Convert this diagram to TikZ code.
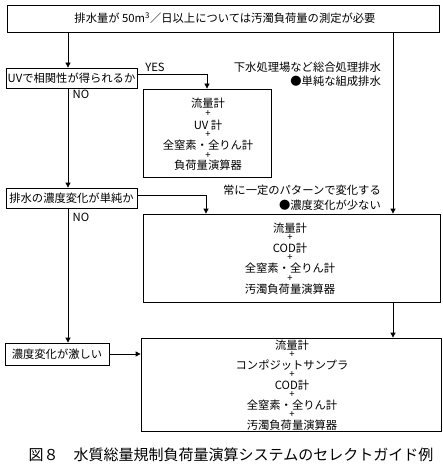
\documentclass[tikz,border=0pt]{standalone}
\usepackage{fontspec}
\setmainfont{Noto Sans CJK JP}
\usetikzlibrary{arrows.meta}
\tikzset{
  boxframe/.style={draw, line width=0.8pt, inner sep=0pt},
  lbl/.style={inner sep=0pt, font=\fontsize{11.3}{13}\selectfont},
  plus/.style={inner sep=0pt, font=\fontsize{9.5}{10}\selectfont},
  arr/.style={line width=0.8pt, -{Triangle[width=5pt,length=5pt]}},
  ln/.style={line width=0.8pt}
}
\begin{document}
\begin{tikzpicture}[x=1pt,y=-1pt]
\useasboundingbox (0,0) rectangle (443,468);
% boxes
\node[boxframe, minimum width=432pt, minimum height=27pt] (top) at (223,18.5) {};
\node[boxframe, minimum width=131pt, minimum height=20pt] (uv) at (71.5,78) {};
\node[boxframe, minimum width=131pt, minimum height=20pt] (simple) at (71.5,198) {};
\node[boxframe, minimum width=104pt, minimum height=22pt] (hard) at (57,354) {};
\node[boxframe, minimum width=128pt, minimum height=88pt] (b1) at (207,133) {};
\node[boxframe, minimum width=297pt, minimum height=88pt] (b2) at (291.5,258) {};
\node[boxframe, minimum width=300pt, minimum height=93pt] (b3) at (291,384.5) {};
% box texts
\node[lbl] (ttop) at (225,18) {排水量が 50m\textsuperscript{3}／日以上については汚濁負荷量の測定が必要};
\node[lbl] (tuv) at (71.5,78) {UVで相関性が得られるか};
\node[lbl] (tsimple) at (71.5,198) {排水の濃度変化が単純か};
\node[lbl] (thard) at (57,354) {濃度変化が激しい};
% box1
\node[lbl] (b1a) at (208,103) {流量計};
\node[plus] (b1p1) at (208,114) {+};
\node[lbl] (b1b) at (208,125) {UV 計};
\node[plus] (b1p2) at (208,135) {+};
\node[lbl] (b1c) at (208,145) {全窒素・全りん計};
\node[plus] (b1p3) at (208,155.5) {+};
\node[lbl] (b1d) at (208,165.5) {負荷量演算器};
% box2
\node[lbl] (b2a) at (290,228) {流量計};
\node[plus] (b2p1) at (290,238) {+};
\node[lbl] (b2b) at (290,248) {COD計};
\node[plus] (b2p2) at (290,258) {+};
\node[lbl] (b2c) at (290,268) {全窒素・全りん計};
\node[plus] (b2p3) at (290,278.5) {+};
\node[lbl] (b2d) at (290,289) {汚濁負荷量演算器};
% box3
\node[lbl] (b3a) at (292,345) {流量計};
\node[plus] (b3p1) at (292,355) {+};
\node[lbl] (b3b) at (292,365) {コンポジットサンプラ};
\node[plus] (b3p2) at (292,375) {+};
\node[lbl] (b3c) at (292,385) {COD計};
\node[plus] (b3p3) at (292,395) {+};
\node[lbl] (b3d) at (292,405) {全窒素・全りん計};
\node[plus] (b3p4) at (292,415) {+};
\node[lbl] (b3e) at (292,425) {汚濁負荷量演算器};
% side labels
\node[lbl] (yes) at (155,67) {YES};
\node[lbl] (no1) at (81,94) {NO};
\node[lbl] (no2) at (81,217) {NO};
\node[lbl, anchor=east] (r1) at (381,67) {下水処理場など総合処理排水};
\node[lbl, anchor=east] (r2) at (381,81) {●単純な組成排水};
\node[lbl, anchor=east] (r3) at (381,190) {常に一定のパターンで変化する};
\node[lbl, anchor=east] (r4) at (381,205) {●濃度変化が少ない};
% caption
\node[inner sep=0pt, font=\fontsize{15}{17}\selectfont] (cap) at (231,455) {図８　水質総量規制負荷量演算システムのセレクトガイド例};
% coordinates
\coordinate (xl) at (68,0);
\coordinate (xr) at (393,0);
\coordinate (x1) at (207,0);
\coordinate (x2) at (206,0);
\coordinate (yyes) at (0,74);
\coordinate (ysim) at (0,195);
% connectors
\draw[arr] (top.south -| xl) -- (uv.north -| xl);
\draw[arr] (uv.south -| xl) -- (simple.north -| xl);
\draw[arr] (simple.south -| xl) -- (hard.north -| xl);
\draw[arr] (uv.east |- yyes) -| (b1.north -| x1);
\draw[arr] (simple.east |- ysim) -| (b2.north -| x2);
\draw[arr] (top.south -| xr) -- (b2.north -| xr);
\draw[arr] (b2.south -| xr) -- (b3.north -| xr);
\draw[arr] (hard.east) -- (hard.east -| b3.west);
\end{tikzpicture}
\end{document}
